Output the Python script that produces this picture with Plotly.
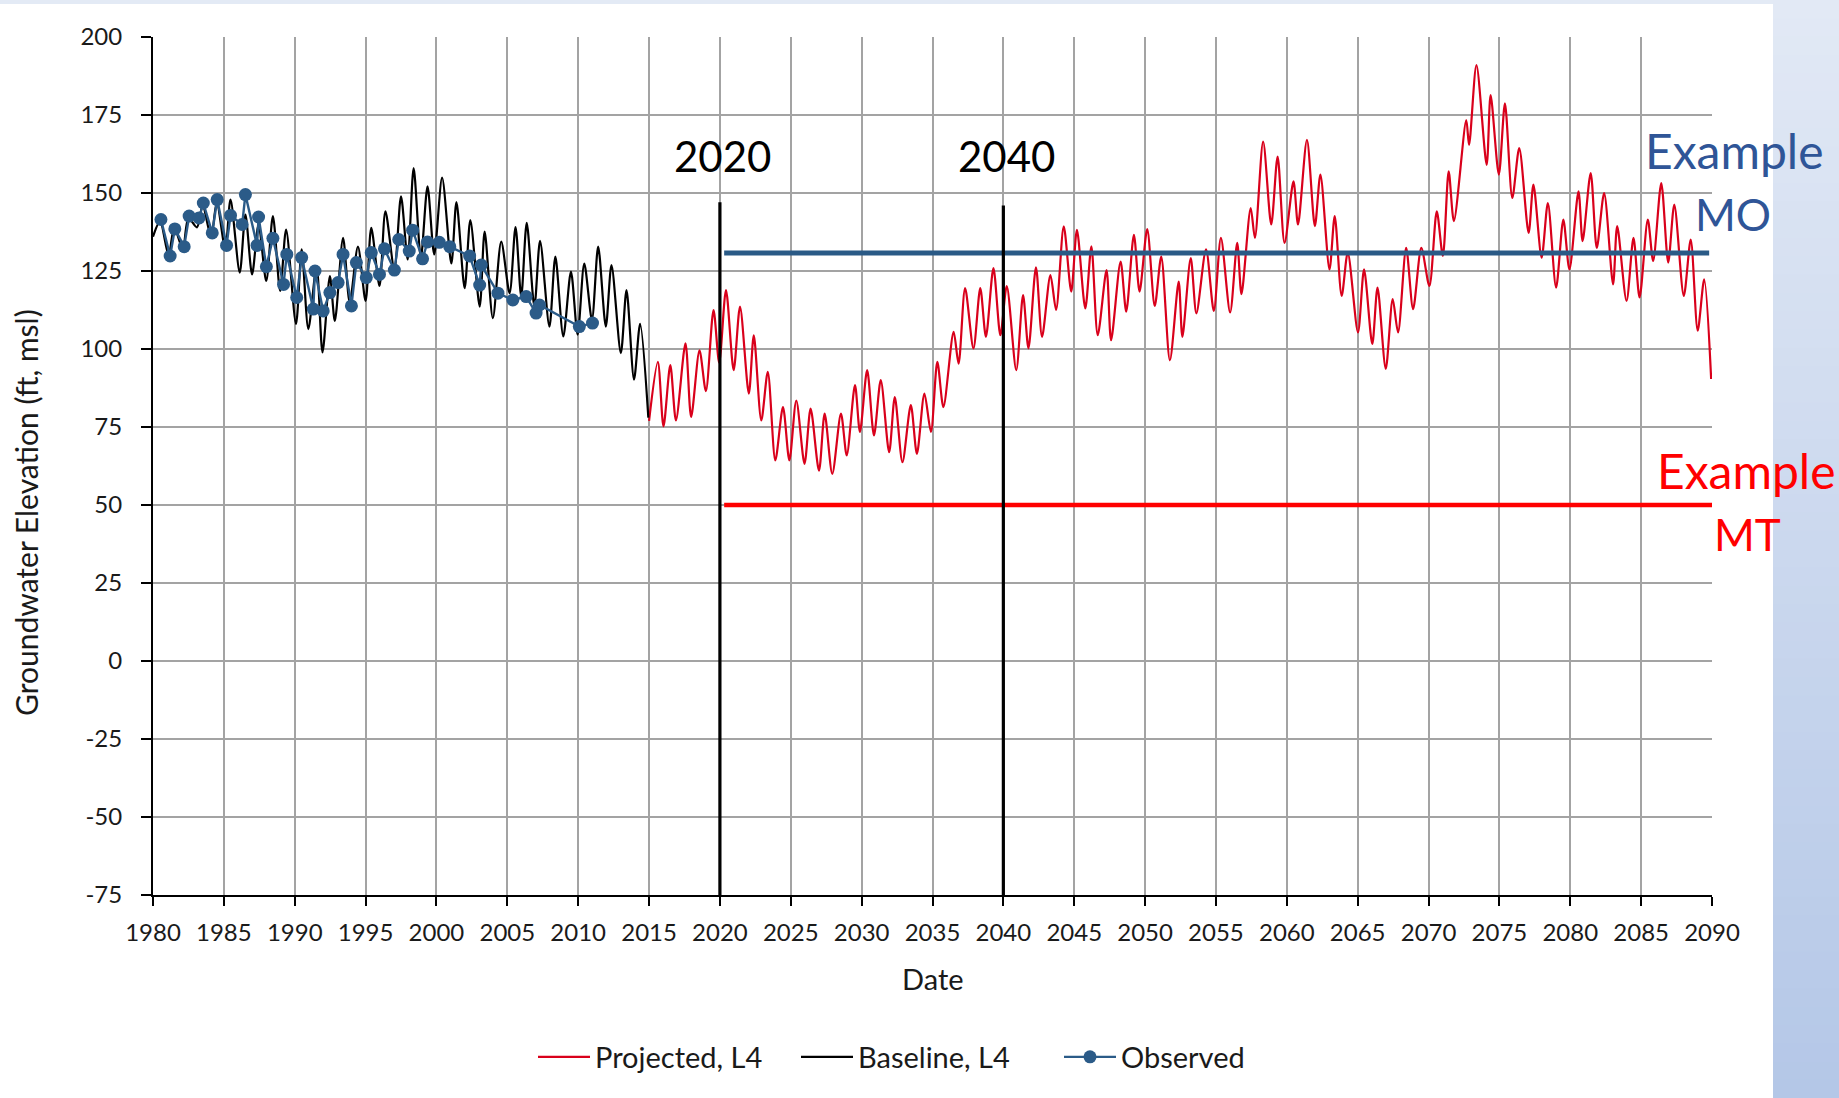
import plotly.graph_objects as go

# ---------------- data ----------------
obs_year = [1980.56, 1981.21, 1981.54, 1982.20, 1982.55, 1983.25, 1983.55, 1984.18, 1984.53,
            1985.19, 1985.47, 1986.29, 1986.52, 1987.34, 1987.45, 1988.00, 1988.46, 1989.21,
            1989.44, 1990.14, 1990.49, 1991.31, 1991.43, 1992.01, 1992.48, 1993.06, 1993.41,
            1994.00, 1994.35, 1995.05, 1995.40, 1995.98, 1996.33, 1997.03, 1997.34, 1998.08,
            1998.32, 1999.02, 1999.37, 2000.20, 2000.94, 2002.34, 2003.05, 2003.16, 2004.34,
            2005.39, 2006.33, 2007.03, 2007.27, 2010.08, 2011.01]
obs_value = [141.5, 129.8, 138.5, 132.8, 142.6, 142.0, 146.8, 137.2, 147.9,
             133.2, 142.8, 139.9, 149.5, 133.2, 142.3, 126.4, 135.5, 120.7,
             130.3, 116.5, 129.3, 112.8, 125.0, 112.2, 118.1, 121.3, 130.3,
             113.8, 127.7, 122.9, 130.9, 123.9, 132.1, 125.3, 135.1, 131.4,
             138.1, 128.9, 134.3, 134.2, 132.8, 129.8, 120.5, 126.9, 117.9,
             115.7, 116.8, 111.5, 114.1, 107.2, 108.3]

base_year = [1980.0, 1980.5, 1981.1, 1981.5, 1982.1, 1982.5, 1983.1, 1983.5, 1984.1, 1984.5,
             1985.1, 1985.47, 1986.12, 1986.52, 1986.99, 1987.45, 1987.99, 1988.46, 1988.97,
             1989.39, 1990.09, 1990.49, 1990.96, 1991.54, 1991.96, 1992.48, 1992.83, 1993.41,
             1993.88, 1994.46, 1995.00, 1995.40, 1995.98, 1996.40, 1997.03, 1997.50, 1997.97,
             1998.39, 1998.90, 1999.37, 1999.84, 2000.40, 2001.05, 2001.41, 2001.99, 2002.39,
             2003.05, 2003.40, 2003.98, 2004.57, 2005.16, 2005.58, 2005.98, 2006.37, 2006.91,
             2007.31, 2007.97, 2008.39, 2008.95, 2009.49, 2009.96, 2010.43, 2010.97, 2011.41,
             2011.95, 2012.35, 2013.01, 2013.41, 2013.94, 2014.37, 2014.95]
base_value = [136.0, 141.0, 130.0, 139.0, 132.0, 142.0, 139.0, 146.0, 136.0, 147.0,
              132.0, 147.9, 124.5, 143.1, 123.9, 139.9, 121.8, 142.6, 118.6,
              138.3, 108.0, 131.9, 106.4, 126.6, 98.9, 123.4, 109.0, 135.6,
              114.9, 132.8, 115.4, 138.8, 120.2, 144.1, 125.5, 148.9, 128.7,
              158.0, 129.3, 152.1, 130.3, 154.9, 127.4, 147.1, 119.5, 141.3,
              113.6, 137.6, 109.9, 134.4, 117.9, 139.1, 116.8, 140.4, 113.6,
              134.7, 107.2, 129.6, 104.0, 124.8, 104.6, 127.4, 109.4, 132.8,
              107.2, 126.9, 98.7, 118.9, 90.2, 108.1, 78.0]

proj_year = [2015.00, 2015.62, 2016.02, 2016.50, 2016.90, 2017.57, 2017.97, 2018.56, 2019.01, 2019.55,
             2019.95, 2020.43, 2020.97, 2021.42, 2022.04, 2022.39, 2022.92, 2023.38, 2023.91, 2024.45,
             2024.90, 2025.39, 2025.97, 2026.40, 2026.99, 2027.39, 2027.93, 2028.54, 2028.95, 2029.53,
             2029.88, 2030.39, 2030.87, 2031.35, 2031.94, 2032.34, 2032.88, 2033.47, 2033.90, 2034.43,
             2034.89, 2035.34, 2035.77, 2036.49, 2036.84, 2037.30, 2037.89, 2038.37, 2038.77, 2039.30,
             2039.79, 2040.24, 2040.91, 2041.39, 2041.77, 2042.30, 2042.73, 2043.32, 2043.72, 2044.26,
             2044.79, 2045.19, 2045.78, 2046.21, 2046.66, 2047.28, 2047.60, 2048.27, 2048.67, 2049.21,
             2049.61, 2050.15, 2050.68, 2051.14, 2051.75, 2052.37, 2052.63, 2053.22, 2053.62, 2054.30,
             2054.85, 2055.35, 2056.00, 2056.50, 2056.80, 2057.45, 2057.75, 2058.33, 2058.90, 2059.35,
             2059.84, 2060.47, 2060.79, 2061.42, 2061.98, 2062.37, 2063.01, 2063.38, 2063.87, 2064.30,
             2065.02, 2065.45, 2066.03, 2066.40, 2066.98, 2067.47, 2067.85, 2068.42, 2068.91, 2069.49,
             2070.06, 2070.58, 2071.01, 2071.42, 2071.79, 2072.66, 2072.86, 2073.38, 2074.10, 2074.38,
             2074.96, 2075.39, 2075.91, 2076.40, 2077.06, 2077.40, 2077.98, 2078.42, 2079.00, 2079.51,
             2079.94, 2080.58, 2080.87, 2081.44, 2081.87, 2082.39, 2083.02, 2083.31, 2083.97, 2084.46,
             2084.89, 2085.47, 2085.85, 2086.42, 2086.91, 2087.34, 2088.01, 2088.50, 2088.99, 2089.45,
             2089.94]
proj_value = [77.0, 95.9, 75.2, 94.8, 77.1, 101.8, 78.2, 99.6, 86.5, 112.5,
              95.6, 118.9, 93.2, 113.6, 85.7, 104.4, 77.1, 92.7, 64.3, 81.4,
              64.3, 83.5, 63.2, 80.9, 61.0, 79.3, 60.0, 79.3, 65.9, 88.4,
              73.4, 93.2, 72.3, 90.0, 66.9, 84.6, 63.7, 82.0, 66.4, 85.7,
              73.4, 95.9, 81.4, 105.5, 95.3, 119.5, 100.2, 119.5, 103.9, 125.9,
              104.4, 120.2, 93.2, 117.3, 100.2, 126.2, 103.9, 123.7, 112.5, 139.3,
              118.4, 138.2, 113.0, 132.9, 104.4, 125.3, 102.8, 128.0, 112.0, 136.6,
              118.4, 138.4, 113.8, 129.6, 96.4, 121.6, 103.9, 129.1, 111.4, 131.9,
              112.2, 135.6, 111.7, 134.0, 117.6, 145.2, 135.6, 166.5, 139.9, 161.7,
              134.0, 153.7, 139.9, 167.0, 139.4, 155.9, 125.5, 142.6, 117.0, 130.9,
              105.3, 125.5, 101.6, 119.7, 93.6, 116.0, 105.3, 132.4, 112.8, 132.4,
              120.2, 144.1, 129.8, 156.9, 141.0, 173.4, 165.4, 191.0, 159.0, 181.4,
              155.9, 178.7, 148.4, 164.4, 137.2, 152.7, 129.3, 146.8, 119.7, 141.5,
              125.5, 150.5, 134.6, 156.4, 132.4, 150.0, 120.7, 139.4, 115.4, 135.6,
              116.5, 141.5, 128.2, 153.2, 127.7, 146.3, 117.0, 135.1, 105.9, 122.3,
              90.4]

milestone_years = [2020, 2040]
milestone_labels = ["2020", "2040"]
milestone_top = [147.0, 146.0]
mo_value = 130.8
mt_value = 50.0
threshold_start = 2020.3
threshold_end = 2089.8

x_ticks = list(range(1980, 2091, 5))
y_ticks = list(range(-75, 201, 25))

# ---------------- layout helpers ----------------
W, H = 1839, 1098
L, R, T, B = 153, 1712, 37, 895
FONT = "Lato"


def px_x(px):
    return (px - L) / (R - L)


def px_y(py):
    return (B - py) / (B - T)


fig = go.Figure()

fig.add_trace(go.Scatter(
    x=proj_year, y=proj_value, mode="lines", name="Projected, L4",
    line=dict(color="#d9001b", width=2.2, shape="spline", smoothing=0.8)))
fig.add_trace(go.Scatter(
    x=base_year, y=base_value, mode="lines", name="Baseline, L4",
    line=dict(color="#000000", width=2.2, shape="spline", smoothing=0.8)))
fig.add_trace(go.Scatter(
    x=obs_year, y=obs_value, mode="lines+markers", name="Observed",
    line=dict(color="#2b5b88", width=2.4),
    marker=dict(color="#2b5b88", size=13)))

# thresholds
fig.add_trace(go.Scatter(x=[threshold_start, threshold_end], y=[mo_value, mo_value],
                         mode="lines", line=dict(color="#2a5a86", width=5),
                         showlegend=False, hoverinfo="skip"))
fig.add_trace(go.Scatter(x=[threshold_start, threshold_end + 0.2], y=[mt_value, mt_value],
                         mode="lines", line=dict(color="#ff0000", width=4.5),
                         showlegend=False, hoverinfo="skip"))

shapes = []
for yr, top in zip(milestone_years, milestone_top):
    shapes.append(dict(type="line", xref="x", yref="y", x0=yr, x1=yr, y0=-75, y1=top,
                       line=dict(color="#000000", width=3.2), layer="above"))

# background decoration: top strip and right gradient panel
shapes.append(dict(type="rect", xref="paper", yref="paper",
                   x0=px_x(0), x1=px_x(1773), y0=px_y(4), y1=px_y(0),
                   fillcolor="#e3eaf5", line=dict(width=0), layer="below"))
n = 60
c0 = (226, 233, 245)
c1 = (180, 199, 231)
for i in range(n):
    f = (i + 0.5) / n
    col = "rgb(%d,%d,%d)" % tuple(round(c0[k] + (c1[k] - c0[k]) * f) for k in range(3))
    y0 = H * i / n
    y1 = H * (i + 1) / n + 1
    shapes.append(dict(type="rect", xref="paper", yref="paper",
                       x0=px_x(1773), x1=px_x(W + 2), y0=px_y(y1), y1=px_y(y0),
                       fillcolor=col, line=dict(width=0), layer="below"))

annotations = []
for yr, lab in zip(milestone_years, milestone_labels):
    annotations.append(dict(x=yr + 0.2, y=162, xref="x", yref="y", text=lab, showarrow=False,
                            font=dict(family=FONT, size=42, color="#000000"),
                            xanchor="center", yanchor="middle"))

blue_txt = "#2f5597"
annotations += [
    dict(x=px_x(1734), y=px_y(150), xref="paper", yref="paper", text="Example", showarrow=False,
         font=dict(family=FONT, size=48, color=blue_txt), xanchor="center", yanchor="middle"),
    dict(x=px_x(1733), y=px_y(214), xref="paper", yref="paper", text="MO", showarrow=False,
         font=dict(family=FONT, size=44, color=blue_txt), xanchor="center", yanchor="middle"),
    dict(x=px_x(1746), y=px_y(470), xref="paper", yref="paper", text="Example", showarrow=False,
         font=dict(family=FONT, size=48, color="#ff0000"), xanchor="center", yanchor="middle"),
    dict(x=px_x(1747), y=px_y(534), xref="paper", yref="paper", text="MT", showarrow=False,
         font=dict(family=FONT, size=44, color="#ff0000"), xanchor="center", yanchor="middle"),
    dict(x=px_x(26), y=px_y(513), xref="paper", yref="paper",
         text="Groundwater Elevation (ft, msl)", textangle=-90, showarrow=False,
         font=dict(family=FONT, size=30, color="#1a1a1a"), xanchor="center", yanchor="middle"),
    dict(x=0.5, y=px_y(978), xref="paper", yref="paper", text="Date", showarrow=False,
         font=dict(family=FONT, size=29, color="#1a1a1a"), xanchor="center", yanchor="middle"),
]

fig.update_layout(
    width=W, height=H, autosize=False,
    margin=dict(l=L, r=W - R, t=T, b=H - B, pad=0),
    paper_bgcolor="#ffffff", plot_bgcolor="#ffffff",
    font=dict(family=FONT, size=24, color="#1a1a1a"),
    shapes=shapes, annotations=annotations,
    legend=dict(orientation="h", x=px_x(533), xanchor="left", y=px_y(1057), yanchor="middle",
                font=dict(family=FONT, size=29, color="#1a1a1a"), bgcolor="rgba(0,0,0,0)",
                itemwidth=52, tracegroupgap=0, entrywidth=196, entrywidthmode="pixels"),
    showlegend=True,
)
fig.update_xaxes(range=[1980, 2090], tickmode="array", tickvals=x_ticks,
                 ticktext=[str(v) for v in x_ticks],
                 showgrid=True, gridcolor="#a3a3a3", gridwidth=1.6,
                 showline=True, linecolor="#000000", linewidth=2,
                 ticks="outside", ticklen=9, tickwidth=1.5, tickcolor="#000000",
                 zeroline=False, tickfont=dict(family=FONT, size=24, color="#1a1a1a"),
                 ticklabelstandoff=6)
fig.update_yaxes(range=[-75, 200], tickmode="array", tickvals=y_ticks,
                 ticktext=[str(v) for v in y_ticks],
                 showgrid=True, gridcolor="#a3a3a3", gridwidth=1.6,
                 showline=True, linecolor="#000000", linewidth=2,
                 ticks="outside", ticklen=10, tickwidth=1.5, tickcolor="#000000",
                 zeroline=False, tickfont=dict(family=FONT, size=24, color="#1a1a1a"),
                 ticklabelstandoff=14)

fig.write_html("out.html")
